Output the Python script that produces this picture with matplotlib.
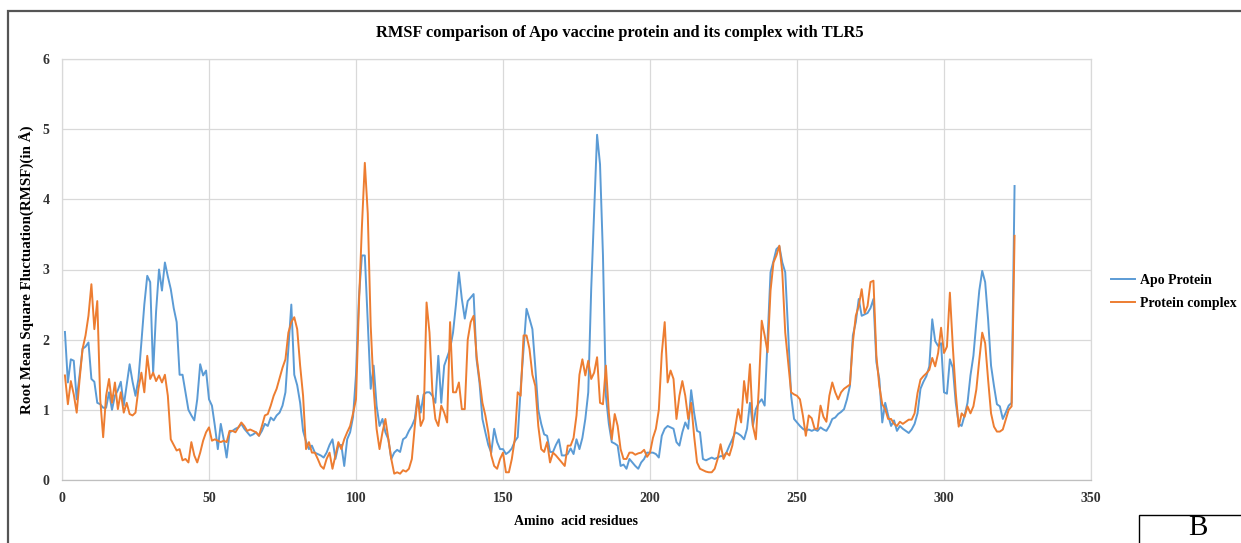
import matplotlib
matplotlib.use("Agg")
import matplotlib.pyplot as plt
import numpy as np
from matplotlib.patches import Rectangle

# RMSF per residue (values in Angstrom)
apo_protein = [
    2.11, 1.39, 1.72, 1.70, 1.15, 1.50, 1.87, 1.90, 1.96, 1.44,
    1.40, 1.10, 1.08, 1.03, 1.03, 1.25, 1.00, 1.20, 1.28, 1.40,
    1.06, 1.35, 1.65, 1.40, 1.20, 1.44, 1.96, 2.50, 2.91, 2.82,
    1.53, 2.40, 3.00, 2.70, 3.10, 2.90, 2.72, 2.45, 2.25, 1.50,
    1.50, 1.25, 1.00, 0.92, 0.85, 1.15, 1.65, 1.49, 1.56, 1.15,
    1.06, 0.77, 0.44, 0.80, 0.58, 0.32, 0.68, 0.70, 0.73, 0.75,
    0.80, 0.73, 0.68, 0.63, 0.65, 0.68, 0.63, 0.70, 0.80, 0.77,
    0.89, 0.85, 0.92, 0.96, 1.06, 1.25, 1.87, 2.50, 1.50, 1.35,
    1.10, 0.70, 0.55, 0.44, 0.49, 0.39, 0.37, 0.35, 0.32, 0.39,
    0.50, 0.58, 0.30, 0.49, 0.50, 0.20, 0.58, 0.68, 0.90, 1.50,
    2.60, 3.20, 3.20, 2.25, 1.30, 1.63, 1.06, 0.77, 0.87, 0.68,
    0.58, 0.30, 0.39, 0.43, 0.40, 0.58, 0.61, 0.70, 0.77, 0.87,
    1.20, 0.96, 1.22, 1.25, 1.25, 1.20, 1.10, 1.77, 1.10, 1.63,
    1.75, 1.87, 2.10, 2.50, 2.96, 2.58, 2.30, 2.55, 2.60, 2.65,
    1.72, 1.39, 0.87, 0.68, 0.50, 0.39, 0.73, 0.54, 0.44, 0.44,
    0.37, 0.40, 0.45, 0.55, 0.61, 1.30, 1.87, 2.44, 2.30, 2.15,
    1.60, 1.00, 0.80, 0.65, 0.63, 0.40, 0.40, 0.50, 0.58, 0.35,
    0.35, 0.37, 0.45, 0.37, 0.58, 0.44, 0.60, 0.87, 1.25, 2.72,
    3.80, 4.92, 4.50, 3.20, 1.20, 0.80, 0.54, 0.52, 0.49, 0.20,
    0.22, 0.16, 0.30, 0.25, 0.20, 0.16, 0.25, 0.30, 0.39, 0.39,
    0.39, 0.37, 0.32, 0.63, 0.73, 0.77, 0.75, 0.73, 0.54, 0.49,
    0.68, 0.82, 0.73, 1.28, 0.96, 0.70, 0.68, 0.30, 0.28, 0.30,
    0.32, 0.30, 0.32, 0.34, 0.34, 0.39, 0.49, 0.58, 0.68, 0.66,
    0.63, 0.58, 0.73, 1.10, 0.77, 1.01, 1.10, 1.15, 1.06, 2.00,
    2.96, 3.12, 3.29, 3.33, 3.10, 2.96, 2.10, 1.20, 0.87, 0.82,
    0.77, 0.73, 0.70, 0.72, 0.70, 0.72, 0.70, 0.75, 0.72, 0.70,
    0.77, 0.87, 0.89, 0.94, 0.97, 1.01, 1.15, 1.34, 2.06, 2.25,
    2.58, 2.34, 2.36, 2.38, 2.45, 2.58, 1.68, 1.44, 0.82, 1.10,
    0.92, 0.77, 0.85, 0.70, 0.77, 0.73, 0.70, 0.67, 0.72, 0.80,
    0.95, 1.30, 1.40, 1.48, 1.62, 2.29, 1.98, 1.91, 1.95, 1.25,
    1.23, 1.72, 1.60, 1.10, 0.80, 0.77, 0.92, 1.10, 1.49, 1.77,
    2.25, 2.70, 2.98, 2.82, 2.29, 1.63, 1.34, 1.08, 1.05, 0.87,
    0.96, 1.06, 1.10, 4.19,
]

protein_complex = [
    1.49, 1.08, 1.41, 1.22, 0.96, 1.44, 1.87, 2.06, 2.34, 2.79,
    2.15, 2.55, 1.15, 0.61, 1.20, 1.44, 1.10, 1.39, 1.01, 1.25,
    0.96, 1.10, 0.94, 0.92, 0.96, 1.30, 1.53, 1.25, 1.77, 1.44,
    1.53, 1.41, 1.49, 1.39, 1.50, 1.20, 0.58, 0.50, 0.42, 0.44,
    0.28, 0.30, 0.25, 0.54, 0.35, 0.25, 0.39, 0.56, 0.68, 0.75,
    0.56, 0.58, 0.56, 0.54, 0.56, 0.54, 0.70, 0.70, 0.68, 0.75,
    0.82, 0.77, 0.70, 0.72, 0.70, 0.68, 0.63, 0.77, 0.92, 0.94,
    1.06, 1.20, 1.30, 1.45, 1.60, 1.72, 2.10, 2.25, 2.32, 2.15,
    1.63, 1.20, 0.44, 0.54, 0.39, 0.39, 0.30, 0.20, 0.16, 0.30,
    0.39, 0.16, 0.35, 0.54, 0.44, 0.58, 0.68, 0.77, 0.95, 1.15,
    2.50, 3.60, 4.52, 3.80, 2.20, 1.30, 0.73, 0.44, 0.68, 0.87,
    0.58, 0.30, 0.09, 0.11, 0.09, 0.14, 0.12, 0.16, 0.30, 0.77,
    1.20, 0.77, 0.87, 2.53, 2.10, 1.25, 0.87, 0.77, 1.06, 0.96,
    0.82, 2.25, 1.25, 1.25, 1.39, 1.01, 1.01, 2.00, 2.25, 2.34,
    1.77, 1.44, 1.10, 0.92, 0.68, 0.35, 0.20, 0.16, 0.30, 0.39,
    0.11, 0.11, 0.30, 0.58, 1.25, 1.20, 2.06, 2.06, 1.87, 1.50,
    1.34, 0.77, 0.44, 0.40, 0.54, 0.25, 0.39, 0.35, 0.30, 0.25,
    0.20, 0.49, 0.49, 0.60, 0.92, 1.50, 1.72, 1.49, 1.70, 1.44,
    1.53, 1.75, 1.10, 1.08, 1.63, 0.96, 0.58, 0.94, 0.77, 0.44,
    0.30, 0.30, 0.39, 0.39, 0.36, 0.38, 0.39, 0.43, 0.33, 0.39,
    0.60, 0.73, 1.00, 1.80, 2.25, 1.39, 1.56, 1.44, 0.87, 1.20,
    1.41, 1.20, 0.87, 1.10, 0.63, 0.25, 0.16, 0.14, 0.12, 0.11,
    0.11, 0.16, 0.30, 0.51, 0.30, 0.39, 0.35, 0.49, 0.75, 1.01,
    0.82, 1.41, 1.10, 1.65, 0.77, 0.58, 1.30, 2.27, 2.06, 1.82,
    2.70, 3.10, 3.20, 3.34, 2.96, 2.10, 1.68, 1.25, 1.22, 1.20,
    1.15, 0.92, 0.63, 0.92, 0.88, 0.73, 0.73, 1.06, 0.90, 0.83,
    1.20, 1.39, 1.25, 1.15, 1.25, 1.30, 1.33, 1.36, 1.96, 2.34,
    2.48, 2.72, 2.38, 2.48, 2.82, 2.84, 1.77, 1.34, 1.08, 1.01,
    0.87, 0.87, 0.80, 0.77, 0.83, 0.80, 0.83, 0.86, 0.86, 0.95,
    1.24, 1.43, 1.48, 1.52, 1.57, 1.74, 1.62, 1.81, 2.17, 1.81,
    1.90, 2.67, 1.90, 1.24, 0.76, 0.95, 0.90, 1.05, 0.95, 1.05,
    1.29, 1.71, 2.10, 1.95, 1.43, 0.95, 0.76, 0.69, 0.69, 0.72,
    0.86, 1.00, 1.05, 3.48,
]

x_ticks = [0, 50, 100, 150, 200, 250, 300, 350]
y_ticks = [0, 1, 2, 3, 4, 5, 6]

res_apo = np.arange(1, len(apo_protein) + 1)
res_cpx = np.arange(1, len(protein_complex) + 1)

plt.rcParams['font.family'] = ['Liberation Serif', 'DejaVu Serif']

W, H = 1241, 543
fig = plt.figure(figsize=(W / 100, H / 100), dpi=100)
# plot area in pixels: x 62..1091, y 59..480
ax = fig.add_axes([62 / W, 1 - 480 / H, (1091 - 62) / W, (480 - 59) / H])

ax.plot(res_apo, apo_protein, color='#5b9bd5', lw=1.4, label='Apo Protein')
ax.plot(res_cpx, protein_complex, color='#ed7d31', lw=1.4, label='Protein complex')

ax.set_xlim(0, 350)
ax.set_ylim(0, 6)
ax.set_xticks(x_ticks)
ax.set_yticks(y_ticks)
ax.grid(True, color='#d9d9d9', lw=0.9)
ax.set_axisbelow(True)
for sp in ax.spines.values():
    sp.set_color('#d9d9d9')
    sp.set_linewidth(0.9)
ax.spines['bottom'].set_color('#bfbfbf')
ax.tick_params(length=0, labelsize=10, pad=9)
for lbl in ax.get_xticklabels() + ax.get_yticklabels():
    lbl.set_fontweight('bold')
    lbl.set_color('#333333')

ax.set_xlabel('Amino  acid residues', fontsize=10, fontweight='bold', labelpad=7)
ax.set_ylabel('Root Mean Square Fluctuation(RMSF)(in Å)', fontsize=10.8,
              fontweight='bold')
ax.yaxis.set_label_coords(-27 / (1091 - 62), 0.5)
fig.text(620 / W, 1 - 33 / H,
         'RMSF comparison of Apo vaccine protein and its complex with TLR5',
         ha='center', va='center', fontsize=11.8, fontweight='bold')

fig.legend(loc='center left', bbox_to_anchor=(1098 / W, 1 - 292 / H),
           frameon=False, prop={'weight': 'bold', 'size': 10},
           handlelength=1.75, handletextpad=0.35, labelspacing=0.75)

# outer frame (top/left only visible) and panel letter box
fig.patches.append(Rectangle((8 / W, -0.05), 1.2, 1 - 11 / H + 0.05,
                             transform=fig.transFigure, fill=False,
                             edgecolor='#555555', lw=1.6))
fig.patches.append(Rectangle((1139 / W, -0.05), 0.2, 0.05 + 28 / H,
                             transform=fig.transFigure, fill=False,
                             edgecolor='black', lw=1.0))
fig.text(1198 / W, 1 - 528 / H, 'B', ha='center', va='center', fontsize=21)

fig.savefig('out.png', dpi=100)
